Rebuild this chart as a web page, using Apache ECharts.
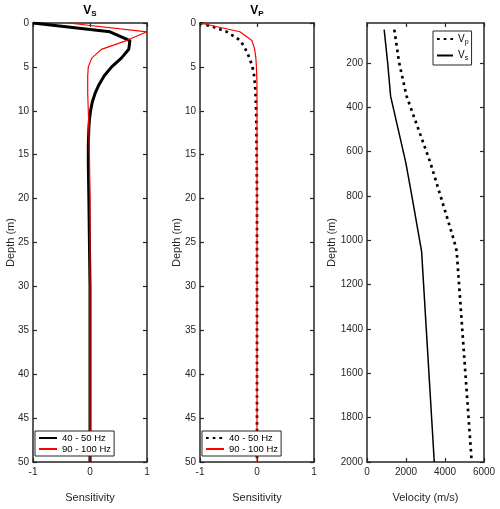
<!DOCTYPE html>
<html><head><meta charset="utf-8">
<script src="https://cdn.jsdelivr.net/npm/echarts@6/dist/echarts.min.js"></script>
<style>html,body{margin:0;padding:0;background:#fff}#c{width:500px;height:509px}</style>
</head><body><div id="c"></div>
<script>
// ---- Panel 1: V_S sensitivity ----
const vsDepth40 = [0,1,2,3,4,5,6,7,8,9,10,11,12,14,16,20,25,30,40,50];
const vsSens40  = [-1,0.35,0.70,0.68,0.55,0.38,0.25,0.16,0.09,0.04,0.01,-0.01,-0.02,-0.03,-0.03,-0.02,-0.01,0,0,0];
const vsDepth90 = [0,1,2,3,4,5,6,8,10,12,15,20,30,40,50];
const vsSens90  = [-0.38,1.0,0.64,0.2,0.03,-0.03,-0.04,-0.04,-0.03,-0.02,-0.01,0,0,0,0];
// ---- Panel 2: V_P sensitivity ----
const vpDepth40 = [0,0.5,1,2,3,4,5,6,7,8,9,10,12,15,20,30,40,50];
const vpSens40  = [-1,-0.74,-0.53,-0.29,-0.2,-0.13,-0.08,-0.05,-0.035,-0.025,-0.02,-0.015,-0.01,-0.005,0,0,0,0];
const vpDepth90 = [0,1,2,3,4,5,7,10,20,30,40,50];
const vpSens90  = [-1,-0.3,-0.09,-0.04,-0.02,-0.01,0,0,0,0,0,0];
// ---- Panel 3: velocity profiles ----
const velDepthS = [50,200,350,650,800,1000,1050,2000];
const velS      = [880,1060,1210,1990,2300,2700,2800,3450];
const velDepthP = [50,200,350,650,800,1000,1050,2000];
const velP      = [1400,1650,2030,3250,3770,4460,4600,5370];
// tick labels
const sensTicks = [-1,0,1];
const depthTicks = [0,5,10,15,20,25,30,35,40,45,50];
const velTicks = [0,2000,4000,6000];
const velDepthTicks = [200,400,600,800,1000,1200,1400,1600,1800,2000];
const legendNames = {vs40:'40 - 50 Hz', vs90:'90 - 100 Hz', vp40:'40 - 50 Hz', vp90:'90 - 100 Hz', Vp:'{v|V}{s|p}', Vs:'{v|V}{s|s}'};

const pair = (xs, ys) => xs.map((x, i) => [x, ys[i]]);
const AX = '#262626';
const FONT = "'Liberation Sans', Arial, Helvetica, sans-serif";

const grids = [
  {left:33, top:23, width:114, height:439},
  {left:200, top:23, width:114, height:439},
  {left:367, top:23, width:117, height:439}
];
const xRanges = [{min:-1,max:1,interval:1},{min:-1,max:1,interval:1},{min:0,max:6000,interval:2000}];
const yRanges = [{min:0,max:50,interval:5},{min:0,max:50,interval:5},{min:20,max:2000,custom:velDepthTicks}];
const xNames = ['Sensitivity','Sensitivity','Velocity (m/s)'];
const yNameGaps = [17,18,30];

const xAxis = [], yAxis = [];
grids.forEach((g, i) => {
  ['bottom','top'].forEach(pos => {
    xAxis.push({
      type:'value', gridIndex:i, position:pos, min:xRanges[i].min, max:xRanges[i].max, interval:xRanges[i].interval,
      axisLine:{show:true, onZero:false, lineStyle:{color:AX, width:1.5}},
      axisTick:{show:true, inside:true, length:4, lineStyle:{color:AX, width:1.2}},
      axisLabel:{show:pos==='bottom', color:AX, fontSize:10, margin:5, fontFamily:FONT, formatter: v => String(v)},
      splitLine:{show:false},
      name: pos==='bottom' ? xNames[i] : '', nameLocation:'middle', nameGap:30, nameMoveOverlap:false,
      nameTextStyle:{color:AX, fontSize:11, fontFamily:FONT}
    });
  });
  ['left','right'].forEach(pos => {
    const r = yRanges[i];
    const ax = {
      type:'value', gridIndex:i, position:pos, inverse:true, min:r.min, max:r.max,
      axisLine:{show:true, onZero:false, lineStyle:{color:AX, width:1.5}},
      axisTick:{show:true, inside:true, length:4, lineStyle:{color:AX, width:1.2}},
      axisLabel:{show:pos==='left', color:AX, fontSize:10, margin:4, fontFamily:FONT, formatter: v => String(v)},
      splitLine:{show:false},
      name: pos==='left' ? 'Depth (m)' : '', nameLocation:'middle', nameGap: yNameGaps[i], nameMoveOverlap:false,
      nameTextStyle:{color:AX, fontSize:11, fontFamily:FONT}
    };
    if (r.custom) { ax.axisTick.customValues = r.custom; ax.axisLabel.customValues = r.custom; }
    else ax.interval = r.interval;
    yAxis.push(ax);
  });
});

const line = (name, i, data, color, width, type) => ({
  name, type:'line', xAxisIndex:i*2, yAxisIndex:i*2, data, symbol:'none', showSymbol:false,
  lineStyle:{color, width, type: type || 'solid', cap:'butt'}, itemStyle:{color}, animation:false
});

const legendBase = {
  orient:'vertical', backgroundColor:'#fff', borderColor:AX, borderWidth:1, borderRadius:0,
  itemGap:1, itemWidth:18, itemHeight:10, selectedMode:false,
  itemStyle:{opacity:0},
  formatter: n => legendNames[n],
  textStyle:{color:'#000', fontSize:9.5, fontFamily:FONT,
    rich:{v:{fontSize:10, fontFamily:FONT, color:'#000'}, s:{fontSize:7, fontFamily:FONT, color:'#000', padding:[6,0,0,0]}}}
};

const option = {
  animation:false,
  textStyle:{fontFamily:FONT},
  grid: grids,
  xAxis, yAxis,
  legend:[
    Object.assign({}, legendBase, {data:['vs40','vs90'], left:35, top:431, padding:[2,3,2,3]}),
    Object.assign({}, legendBase, {data:['vp40','vp90'], left:202, top:431, padding:[2,3,2,3]}),
    Object.assign({}, legendBase, {data:['Vp','Vs'], left:433, top:31, itemWidth:16, padding:[3,3,3,3], itemGap:5})
  ],
  graphic:[
    {type:'text', x:90, y:3, style:{text:'{v|V}{s|S}', align:'center', fill:'#000',
      rich:{v:{fontSize:12, fontWeight:'bold', fontFamily:FONT, fill:'#000'}, s:{fontSize:8, fontWeight:'bold', fontFamily:FONT, fill:'#000', padding:[7,0,0,0]}}}},
    {type:'text', x:257, y:3, style:{text:'{v|V}{s|P}', align:'center', fill:'#000',
      rich:{v:{fontSize:12, fontWeight:'bold', fontFamily:FONT, fill:'#000'}, s:{fontSize:8, fontWeight:'bold', fontFamily:FONT, fill:'#000', padding:[7,0,0,0]}}}}
  ],
  series:[
    line('vs40', 0, pair(vsSens40, vsDepth40), '#000', 3),
    line('vs90', 0, pair(vsSens90, vsDepth90), '#ff0000', 1.2),
    line('vp40', 1, pair(vpSens40, vpDepth40), '#000', 2.7, [2.7,4]),
    line('vp90', 1, pair(vpSens90, vpDepth90), '#ff0000', 1.2),
    line('Vp', 2, pair(velP, velDepthP), '#000', 2.7, [2.7,4]),
    line('Vs', 2, pair(velS, velDepthS), '#000', 1.5)
  ]
};
const chart = echarts.init(document.getElementById('c'), null, {renderer:'canvas'});
chart.setOption(option);
</script></body></html>
